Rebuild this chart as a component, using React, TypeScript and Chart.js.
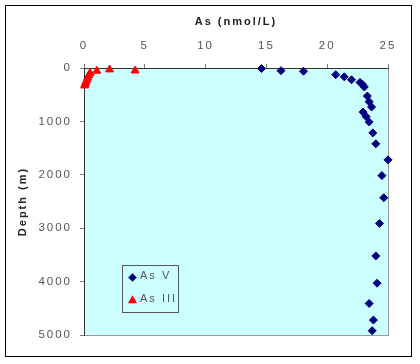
import React, { useEffect, useRef } from "react";
import Chart from "chart.js/auto";

// As V (nmol/L) vs depth (m)
const asVConc = [14.6, 16.2, 18.05, 20.7, 21.4, 22.0, 22.7, 22.9, 23.05, 23.3, 23.45, 23.65, 22.95, 23.2, 23.45, 23.75, 24.0, 25.0, 24.5, 24.65, 24.3, 24.0, 24.1, 23.45, 23.8, 23.7];
const asVDepth = [10, 50, 60, 125, 165, 220, 270, 305, 355, 525, 630, 730, 825, 910, 1010, 1215, 1420, 1720, 2015, 2430, 2910, 3520, 4030, 4410, 4720, 4920];
// As III (nmol/L) vs depth (m)
const asIIIConc = [4.2, 2.1, 1.05, 0.5, 0.4, 0.3, 0.25, 0.15, 0.1, 0.05];
const asIIIDepth = [50, 30, 55, 95, 140, 180, 220, 260, 300, 330];

const seriesLabels = ["As V", "As III"];
const xTitle = "As (nmol/L)";
const yTitle = "Depth (m)";
const xMin = 0, xMax = 25, xStep = 5;
const yMin = 0, yMax = 5000, yStep = 1000;

const FONT = "'Liberation Sans', Arial, sans-serif";
const SPACING = "2px";

export default function App() {
  const ref = useRef<HTMLCanvasElement | null>(null);

  useEffect(() => {
    const canvas = ref.current;
    if (!canvas) return;

    const spacingPlugin = {
      id: "spacing",
      beforeLayout(chart: any) { chart.ctx.letterSpacing = SPACING; },
      beforeDraw(chart: any) { chart.ctx.letterSpacing = SPACING; },
    };

    const bgPlugin = {
      id: "bg",
      beforeDraw(chart: any) {
        const { ctx, chartArea: a, width, height } = chart;
        ctx.save();
        ctx.fillStyle = "#ffffff";
        ctx.fillRect(0, 0, width, height);
        ctx.strokeStyle = "#000000";
        ctx.lineWidth = 1;
        ctx.strokeRect(5.5, 5.5, 406, 351);
        ctx.fillStyle = "#CCFFFF";
        ctx.fillRect(a.left, a.top, a.right - a.left, a.bottom - a.top);
        ctx.strokeStyle = "#9a9a9a";
        ctx.beginPath();
        ctx.moveTo(a.left, a.bottom + 0.5);
        ctx.lineTo(a.right + 0.5, a.bottom + 0.5);
        ctx.lineTo(a.right + 0.5, a.top);
        ctx.stroke();
        ctx.restore();
      },
    };

    const legendPlugin = {
      id: "boxLegend",
      afterDraw(chart: any) {
        const { ctx } = chart;
        const ds = chart.data.datasets;
        const bx = 122.5, by = 265.5, bw = 56, bh = 47;
        ctx.save();
        ctx.strokeStyle = "#555555";
        ctx.lineWidth = 1;
        ctx.strokeRect(bx, by, bw, bh);
        const rows = [277.5, 300.5];
        ds.forEach((d: any, i: number) => {
          const cx = 132.5, cy = rows[i];
          ctx.fillStyle = d.backgroundColor;
          ctx.beginPath();
          if (d.pointStyle === "rectRot") {
            ctx.moveTo(cx - 4.3, cy);
            ctx.lineTo(cx, cy - 4.3);
            ctx.lineTo(cx + 4.3, cy);
            ctx.lineTo(cx, cy + 4.3);
          } else {
            ctx.moveTo(cx, cy - 5.3);
            ctx.lineTo(cx + 4.6, cy + 2.7);
            ctx.lineTo(cx - 4.6, cy + 2.7);
          }
          ctx.closePath();
          ctx.fill();
          ctx.fillStyle = "#555555";
          ctx.font = `11px ${FONT}`;
          ctx.letterSpacing = SPACING;
          ctx.textAlign = "left";
          ctx.textBaseline = "middle";
          ctx.fillText(d.label, 140, cy - 1.5);
        });
        ctx.restore();
      },
    };

    const chart = new Chart(canvas, {
      type: "scatter",
      data: {
        datasets: [
          {
            label: seriesLabels[0],
            data: asVConc.map((x, i) => ({ x, y: asVDepth[i] })),
            pointStyle: "rectRot",
            pointRadius: 4,
            backgroundColor: "#000080",
            borderColor: "#000080",
            borderWidth: 1,
            clip: false,
          },
          {
            label: seriesLabels[1],
            data: asIIIConc.map((x, i) => ({ x, y: asIIIDepth[i] })),
            pointStyle: "triangle",
            pointRadius: 4.6,
            backgroundColor: "#FF0000",
            borderColor: "#FF0000",
            borderWidth: 1,
            clip: false,
          },
        ],
      },
      options: {
        responsive: false,
        animation: false,
        devicePixelRatio: 1,
        layout: { padding: { left: 8, top: 8, right: 32, bottom: 29 } },
        plugins: { legend: { display: false }, tooltip: { enabled: false } },
        scales: {
          x: {
            type: "linear",
            position: "top",
            min: xMin,
            max: xMax,
            afterFit(scale: any) { scale.height = 60; },
            ticks: {
              stepSize: xStep,
              padding: 11,
              color: "#555555",
              font: { family: FONT, size: 11.5 },
              callback: (v: any) => String(v),
            },
            grid: { display: true, drawOnChartArea: false, drawTicks: true, tickLength: 4, color: "#777777" },
            border: { display: true, color: "#333333", width: 1 },
            title: {
              display: true,
              text: xTitle,
              color: "#222222",
              font: { family: FONT, size: 11, weight: "bold" },
              padding: { top: 7, bottom: 0 },
            },
          },
          y: {
            type: "linear",
            reverse: true,
            min: yMin,
            max: yMax,
            afterFit(scale: any) { scale.width = 76; },
            ticks: {
              stepSize: yStep,
              padding: 8,
              color: "#555555",
              font: { family: FONT, size: 11.5 },
              callback: (v: any) => String(v),
            },
            grid: { display: true, drawOnChartArea: false, drawTicks: true, tickLength: 4, color: "#777777" },
            border: { display: true, color: "#333333", width: 1 },
            title: {
              display: true,
              text: yTitle,
              color: "#222222",
              font: { family: FONT, size: 11, weight: "bold" },
              padding: { top: 8, bottom: 0 },
            },
          },
        },
      },
      plugins: [spacingPlugin, bgPlugin, legendPlugin],
    } as any);

    return () => chart.destroy();
  }, []);

  return (
    <div style={{ position: "fixed", left: 0, top: 0, width: 420, height: 364, background: "#fff" }}>
      <canvas ref={ref} width={420} height={364} style={{ display: "block", width: 420, height: 364 }} />
    </div>
  );
}
